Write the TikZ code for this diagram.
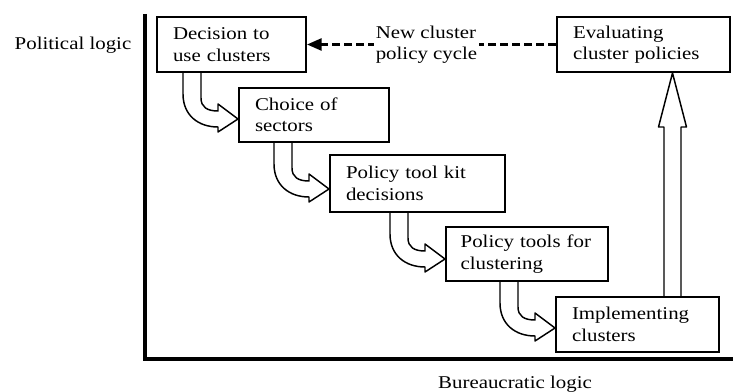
\documentclass[tikz,border=0pt]{standalone}
\usepackage{fontspec}
\setmainfont{Liberation Serif}[FakeStretch=1.16]
\usepackage{tikz}
\usetikzlibrary{calc,arrows.meta}
\tikzset{%
  stage/.style={draw,line width=1.5pt,anchor=north west,align=left,inner xsep=12pt,inner ysep=0pt,minimum height=41.25pt},
  hollow/.style={draw=black,line width=1.1pt,line join=round},
  axis/.style={draw=black,line width=2.5pt},
  cycleedge/.style={draw=black,line width=2pt,dash pattern=on 6pt off 3pt,-{Triangle[length=11pt,width=9pt]}},
  cyclelbl/.style={fill=white,align=left,inner sep=1pt}
}
% bent hollow arrow from the bottom of #1 into the left side of #2
\newcommand{\stagearrow}[2]{%
  \path (#2.west) ++(-55,0) coordinate (s-tmp);
  \coordinate (s) at (s-tmp |- #1.south);
  \draw[hollow] (s) -- ($(s)+(0,21)$)
    .. controls ($(s)+(0,42)$) and ($(s)+(15,54)$) .. ($(s)+(35,54)$)
    -- ($(s)+(35,59)$) -- ($(s)+(55,46)$) -- ($(s)+(35,31)$) -- ($(s)+(35,38)$)
    .. controls ($(s)+(24,38)$) and ($(s)+(18,34)$) .. ($(s)+(18,25)$)
    -- ($(s)+(18,0)$);
}

\begin{document}
\begin{tikzpicture}[x=0.75pt,y=-0.75pt,font=\fontsize{13.5}{16}\selectfont]
  \useasboundingbox (0,0) rectangle (733,392);
  % axes
  \draw[axis] (145,14) -- (145,359) -- (733,359);
  \node (pol) at (73,45) {Political logic};
  \node (bur) at (515,384) {Bureaucratic logic};
  % stages
  \node[stage,text width=87.75pt] (decide) at (156,16) {Decision to\\use clusters};
  \node[stage,text width=88.5pt,minimum height=40.5pt] (sectors) at (238,87) {Choice of\\sectors};
  \node[stage,text width=107.25pt,minimum height=42.75pt] (toolkit) at (329,154) {Policy tool kit\\decisions};
  \node[stage,inner xsep=11pt,text width=99.5pt,minimum height=40.5pt] (tools) at (445,226) {Policy tools for\\clustering};
  \node[stage,text width=98.25pt] (impl) at (555,296) {Implementing\\clusters};
  \node[stage,text width=105.75pt] (eval) at (556,16) {Evaluating\\cluster policies};
  % downward steps
  \stagearrow{decide}{sectors}
  \stagearrow{sectors}{toolkit}
  \stagearrow{toolkit}{tools}
  \stagearrow{tools}{impl}
  % up to evaluation
  \coordinate (t) at ($(eval.south)+(29,0)$);
  \coordinate (b) at (t |- impl.north);
  \draw[hollow] ($(b)+(-8.5,0)$) -- ($(t)+(-8.5,54)$) -- ($(t)+(-14,54)$) -- (t)
    -- ($(t)+(14,54)$) -- ($(t)+(8.5,54)$) -- ($(b)+(8.5,0)$);
  % back to the start
  \draw[cycleedge] (eval.west) -- (decide.east)
    node[pos=0.52,cyclelbl] (cyc) {New cluster\\policy cycle};
\end{tikzpicture}
\end{document}
